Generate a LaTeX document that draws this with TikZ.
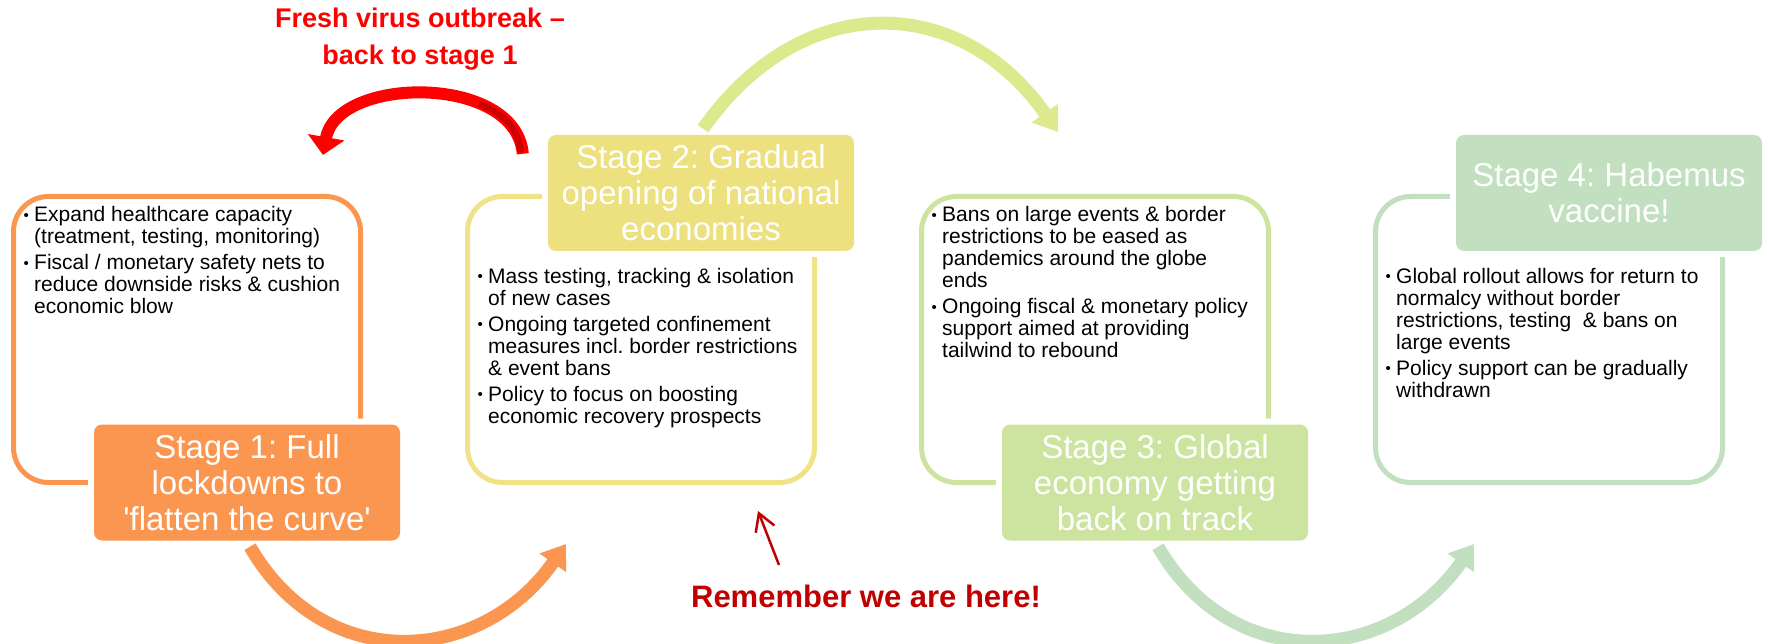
\documentclass[tikz,border=0pt]{standalone}
\usepackage{fontspec}
\setmainfont{Liberation Sans}
\usepackage{xcolor}
\usepackage{tikz}
\usetikzlibrary{arrows.meta,positioning,calc}
\frenchspacing

\definecolor{orng}{RGB}{250,150,80}
\definecolor{ylw}{RGB}{237,224,126}
\definecolor{ylwline}{RGB}{240,227,135}
\definecolor{grnA}{RGB}{204,228,160}
\definecolor{grnB}{RGB}{194,223,192}
\definecolor{lime}{RGB}{220,233,141}
\definecolor{brightred}{RGB}{255,0,0}
\definecolor{shadered}{RGB}{204,0,0}
\definecolor{darkred}{RGB}{192,0,0}

\newcommand{\bul}{\makebox[10.5pt][l]{\raisebox{1.5pt}{\fontsize{15}{15}\selectfont\textbullet}}}
\newcommand{\ind}{\hspace*{10.5pt}}

\tikzset{
  outline/.style={draw, line width=5pt, rounded corners=35pt, minimum width=347pt, minimum height=286pt},
  stagebox/.style={fill=#1, preaction={draw=white, line width=12pt}, rounded corners=8pt,
    minimum width=306pt, minimum height=116pt, text=white, align=center, inner sep=0pt,
    font=\fontsize{33}{36}\selectfont},
  bodytext/.style={anchor=north west, align=left, inner sep=0pt, font=\fontsize{21}{22}\selectfont},
  bigarrow/.style={line width=13pt, -{Triangle[length=23pt,width=31pt]}},
  redlabel/.style={anchor=north, align=center, inner sep=0pt, font=\bfseries\fontsize{27}{37}\selectfont},
}

\begin{document}
\begin{tikzpicture}[x=1pt,y=1pt]
    \useasboundingbox (0,0) rectangle (1768,643);
    % outline boxes
    \node[outline, draw=orng] (o1) at (187,303.5) {};
    \node[outline, draw=ylwline] (o2) at (641,303.5) {};
    \node[outline, draw=grnA] (o3) at (1095,303.5) {};
    \node[outline, draw=grnB] (o4) at (1549,303.5) {};
    % bullet lists
    \node[bodytext] (b1) at ([shift={(12.5,-12.5)}]o1.north west)
      {\bul Expand healthcare capacity\\ \ind(treatment, testing, monitoring)\\[4pt]
       \bul Fiscal / monetary safety nets to\\ \ind reduce downside risks \& cushion\\ \ind economic blow};
    \node[bodytext] (b2) at ([shift={(12.5,-74)}]o2.north west)
      {\bul Mass testing, tracking \& isolation\\ \ind of new cases\\[4pt]
       \bul Ongoing targeted confinement\\ \ind measures incl. border restrictions\\ \ind\& event bans\\[4pt]
       \bul Policy to focus on boosting\\ \ind economic recovery prospects};
    \node[bodytext] (b3) at ([shift={(12.5,-12.5)}]o3.north west)
      {\bul Bans on large events \& border\\ \ind restrictions to be eased as\\ \ind pandemics around the globe\\ \ind ends\\[4pt]
       \bul Ongoing fiscal \& monetary policy\\ \ind support aimed at providing\\ \ind tailwind to rebound};
    \node[bodytext] (b4) at ([shift={(12.5,-74)}]o4.north west)
      {\bul Global rollout allows for return to\\ \ind normalcy without border\\ \ind restrictions, testing\ \ \& bans on\\ \ind large events\\[4pt]
       \bul Policy support can be gradually\\ \ind withdrawn};
    % stage boxes
    \node[stagebox=orng] (s1) at (247,160.5) {Stage 1: Full\\lockdowns to\\\textquotesingle flatten the curve\textquotesingle};
    \node[stagebox=ylw] (s2) at (701,450) {Stage 2: Gradual\\opening of national\\economies};
    \node[stagebox=grnA] (s3) at (1155,160.5) {Stage 3: Global\\economy getting\\back on track};
    \node[stagebox=grnB] (s4) at (1609,450) {Stage 4: Habemus\\vaccine!};
    % stage arrows
    \coordinate (t2) at (566,99);
    \coordinate (t3) at (1058,511);
    \coordinate (t4) at (1474,99);
    \draw[bigarrow, orng] ([shift={(3,-6)}]s1.south) to[out=-60, in=-125, looseness=1.2] (t2);
    \draw[bigarrow, lime] ([shift={(2,6)}]s2.north) to[out=55, in=125, looseness=1.23] (t3);
    \draw[bigarrow, grnB] ([shift={(3,-6)}]s3.south) to[out=-60, in=-125, looseness=1.2] (t4);
    % back to stage 1
    \coordinate (t1) at (323,488);
    \draw[line width=12pt, brightred, -{Triangle[length=18pt,width=36pt]}]
      ([shift={(-25,-19)}]s2.north west) to[out=95, in=80, looseness=1.03] (t1);
    \draw[line width=6pt, shadered] ([shift={(-27,-17)}]s2.north west) to[out=96, in=-21] (479,539);
    \node[redlabel, text=brightred] (fresh) at (420,635) {Fresh virus outbreak --\\back to stage 1};
    % we are here
    \node[redlabel, text=darkred, font=\bfseries\fontsize{31}{37}\selectfont] (rem) at (866,58) {Remember we are here!};
    \coordinate (here) at (758,132);
    \draw[line width=2.5pt, darkred, -{Straight Barb[length=17pt,width=20pt]}] ([shift={(-87,20)}]rem.north) -- (here);
\end{tikzpicture}
\end{document}
